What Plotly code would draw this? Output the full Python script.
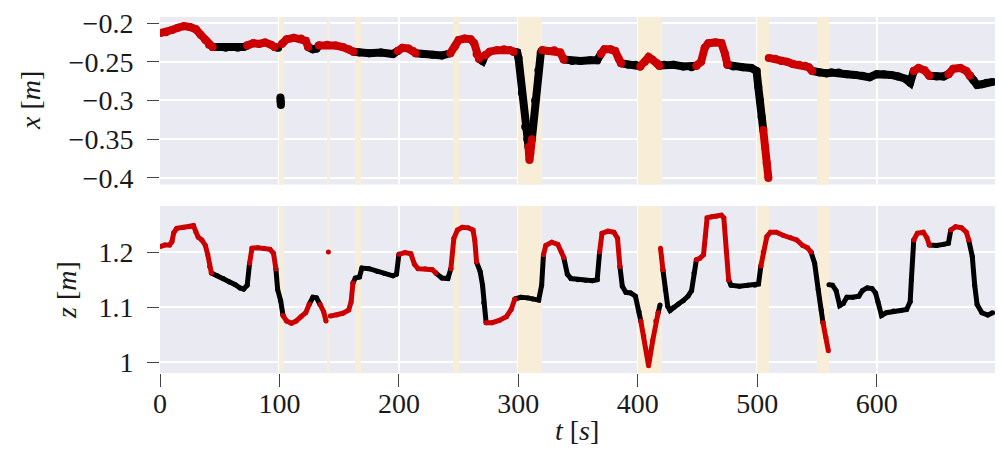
import plotly.graph_objects as go

# ---------------- data ----------------
# top panel: x [m]
x_t = [0, 5, 10, 15, 20, 25, 30, 34, 38, 41,
       44, 50, 55, 60, 65, 70,
       73, 78, 83, 88, 93,
       96, 99, 100,
       100.8, 101.0, 101.2, 101.5,
       102, 106, 112, 118, 122,
       124, 128, 131,
       133, 140, 147, 153, 158,
       162, 167, 175, 185, 195,
       199, 203, 208, 212,
       214, 220, 228, 236,
       243, 247, 250, 255, 260, 263, 265,
       267, 270,
       272, 276, 282, 288, 293,
       296, 299, 300.1, 302.9, 305.7, 307.5,
       308.5, 309.3, 310.0,
       311.3, 314, 316.8, 318.8,
       320, 325, 330, 335,
       338, 345, 352, 360, 366,
       369, 372, 377, 381, 384,
       386, 392, 398,
       402, 406, 409, 412, 416,
       418, 422, 430, 438, 445,
       449, 453, 456, 459, 465, 470, 473,
       475, 480, 488, 495, 499.4, 500.8, 502.2, 503.6,
       505, 506.5, 507.9, 509.3, 509.4,
       509.6, 515, 520, 525, 530, 535, 540, 543,
       546, 552, 558, 562, 568, 575, 582, 588, 594, 600, 606, 612, 618, 624, 628,
       631, 635, 640,
       644, 650, 656,
       660, 664, 670, 675,
       678, 681, 684, 688, 692, 697]
x_val = [-0.213, -0.212, -0.209, -0.206, -0.204, -0.205, -0.208, -0.215, -0.222, -0.228,
         -0.231, -0.231, -0.232, -0.231, -0.232, -0.231,
         -0.229, -0.226, -0.227, -0.225, -0.228,
         -0.231, -0.232, None,
         -0.296, -0.301, -0.306, None,
         -0.227, -0.221, -0.219, -0.220, -0.223,
         -0.231, -0.234, -0.233,
         -0.229, -0.228, -0.229, -0.231, -0.234,
         -0.237, -0.238, -0.239, -0.238, -0.240,
         -0.236, -0.232, -0.233, -0.236,
         -0.239, -0.240, -0.241, -0.242,
         -0.239, -0.230, -0.222, -0.220, -0.221, -0.226, -0.240,
         -0.246, -0.249,
         -0.242, -0.237, -0.235, -0.234, -0.235,
         -0.237, -0.238, -0.245, -0.290, -0.334, -0.350,
         -0.360, -0.377, -0.368,
         -0.350, -0.300, -0.261, -0.238,
         -0.235, -0.236, -0.235, -0.238,
         -0.247, -0.249, -0.249, -0.248, -0.248,
         -0.240, -0.234, -0.234, -0.236, -0.246,
         -0.252, -0.254, -0.254,
         -0.256, -0.250, -0.244, -0.247, -0.252,
         -0.255, -0.254, -0.254, -0.256, -0.257,
         -0.255, -0.250, -0.232, -0.226, -0.225, -0.226, -0.240,
         -0.254, -0.256, -0.257, -0.258, -0.262, -0.282, -0.300, -0.321,
         -0.338, -0.360, -0.381, -0.400, None,
         -0.245, -0.246, -0.249, -0.250, -0.253, -0.254, -0.255, -0.257,
         -0.262, -0.264, -0.265, -0.264, -0.264, -0.266, -0.267, -0.268, -0.270, -0.266, -0.266, -0.267, -0.269, -0.272, -0.277,
         -0.262, -0.258, -0.261,
         -0.268, -0.269, -0.269,
         -0.266, -0.259, -0.258, -0.262,
         -0.268, -0.274, -0.280, -0.279, -0.277, -0.276]
x_col = (['r'] * 10 + ['k'] * 6 + ['r'] * 5 + ['k'] * 3 + ['k'] * 4 + ['r'] * 5 + ['k'] * 3
         + ['r'] * 5 + ['k'] * 5 + ['r'] * 4 + ['k'] * 4 + ['r'] * 7 + ['k'] * 2 + ['r'] * 5
         + ['k'] * 6 + ['r'] * 3 + ['k'] * 4 + ['r'] * 4 + ['k'] * 5 + ['r'] * 5 + ['k'] * 3
         + ['r'] * 5 + ['k'] * 5 + ['r'] * 7 + ['k'] * 8 + ['r'] * 5 + ['r'] * 8 + ['k'] * 15
         + ['r'] * 3 + ['k'] * 3 + ['r'] * 4 + ['k'] * 6)

# bottom panel: z [m]
z_t = [0, 4, 8, 10, 11.5, 14, 20, 25, 28, 30, 32, 35, 38, 40, 41.5,
       43, 48, 53, 58, 63, 67, 70, 73,
       75, 77, 82, 87, 92, 95,
       97, 98.5, 101,
       103, 106, 110, 114, 118, 122,
       125, 128, 131,
       134, 137, 139, 140,
       141, 141.5,
       142.5, 148, 153, 158, 160,
       161.5, 163.5, 167, 169, 175, 182, 188, 195, 198,
       200, 205, 210, 213, 216, 222, 228,
       231, 236, 241,
       243.5, 246, 249, 253, 258, 262, 263.5,
       265, 268, 270, 271,
       273, 278, 284, 290, 294,
       297, 302, 308, 312, 317, 319.5,
       321, 323, 328, 333, 336,
       338, 341, 344, 350, 356, 362, 366,
       368, 370, 375, 380, 383,
       385, 387, 390, 394, 398, 401,
       402.5, 405, 409, 412.5, 415,
       417, 418.6, 418.8,
       419, 420,
       421, 423, 425, 427, 430, 434, 438, 442, 445, 447,
       449, 452, 455, 456.5, 458, 462, 466, 470, 472, 474,
       476, 478, 485, 492, 498, 501,
       503, 505, 508, 511, 516, 522, 528, 533, 538, 542,
       545, 548, 551, 553.5,
       555, 557.5, 559.5, 559.8,
       560, 563, 566, 569, 572, 575, 580, 585, 588, 592, 596, 599, 601, 604, 608, 614, 620, 625, 628, 629,
       631, 634, 639, 642,
       644, 650, 656, 660,
       662, 666, 671, 675,
       677, 680, 682, 684, 688, 693, 697]
z_val = [1.210, 1.213, 1.213, 1.219, 1.235, 1.243, 1.245, 1.246, 1.248, 1.237, 1.227, 1.222, 1.212, 1.195, 1.174,
         1.162, 1.157, 1.152, 1.146, 1.141, 1.135, 1.133, 1.140,
         1.180, 1.207, 1.208, 1.207, 1.205, 1.198,
         1.170, 1.132, 1.112,
         1.085, 1.075, 1.071, 1.075, 1.083, 1.090,
         1.106, 1.118, 1.117,
         1.105, 1.092, 1.075, None,
         1.200, None,
         1.084, 1.086, 1.089, 1.095, 1.110,
         1.144, 1.153, 1.155, 1.171, 1.170, 1.165, 1.161, 1.157, 1.160,
         1.196, 1.199, 1.197, 1.178, 1.170, 1.170, 1.168,
         1.162, 1.153, 1.152,
         1.170, 1.225, 1.240, 1.245, 1.244, 1.240, 1.222,
         1.182, 1.165, 1.140, 1.108,
         1.072, 1.072, 1.076, 1.083, 1.096,
         1.115, 1.118, 1.117, 1.115, 1.113, 1.140,
         1.195, 1.212, 1.218, 1.214, 1.200,
         1.190, 1.160, 1.152, 1.150, 1.149, 1.148, 1.150,
         1.200, 1.234, 1.238, 1.236, 1.225,
         1.174, 1.138, 1.127, 1.126, 1.120, 1.092,
         1.075, 1.048, 0.994, 1.040, 1.075,
         1.090, 1.104, None,
         1.207, 1.190,
         1.168, 1.132, 1.102, 1.094, 1.100, 1.106, 1.112, 1.120, 1.130, 1.162,
         1.186, 1.189, 1.195, 1.230, 1.262, 1.264, 1.265, 1.267, 1.262, 1.200,
         1.150, 1.140, 1.138, 1.140, 1.140, 1.142,
         1.175, 1.200, 1.228, 1.236, 1.236, 1.230, 1.226, 1.222, 1.212, 1.208,
         1.200, 1.180, 1.132, 1.095,
         1.072, 1.045, 1.021, None,
         1.141, 1.140, 1.130, 1.103, 1.107, 1.118, 1.118, 1.120, 1.130, 1.135, 1.134, 1.126, 1.110, 1.085, 1.090, 1.093, 1.094, 1.096, 1.110, 1.150,
         1.222, 1.234, 1.236, 1.226,
         1.213, 1.212, 1.214, 1.216,
         1.240, 1.246, 1.244, 1.236,
         1.222, 1.192, 1.140, 1.105, 1.090, 1.086, 1.090]
z_col = (['r'] * 15 + ['k'] * 8 + ['r'] * 6 + ['k'] * 3 + ['r'] * 6 + ['k'] * 3 + ['r'] * 4
         + ['r'] * 2 + ['r'] * 5 + ['k'] * 9 + ['r'] * 7 + ['k'] * 3 + ['r'] * 7 + ['k'] * 4
         + ['r'] * 5 + ['k'] * 6 + ['r'] * 5 + ['k'] * 7 + ['r'] * 5 + ['k'] * 6 + ['r'] * 5
         + ['k'] * 3 + ['r'] * 2 + ['k'] * 10 + ['r'] * 10 + ['k'] * 6 + ['r'] * 10 + ['k'] * 4
         + ['r'] * 4 + ['k'] * 20 + ['r'] * 4 + ['k'] * 4 + ['r'] * 4 + ['k'] * 7)

# highlighted time windows [s]
band_start = [100, 139.5, 163, 245, 300, 400, 500, 550]
band_end = [104, 142.5, 168, 250, 320, 420, 510, 560]

x_ticks = [0, 100, 200, 300, 400, 500, 600]
y1_ticks = [-0.2, -0.25, -0.3, -0.35, -0.4]
y1_labels = ["\u22120.2", "\u22120.25", "\u22120.3", "\u22120.35", "\u22120.4"]
y2_ticks = [1.0, 1.1, 1.2]
y2_labels = ["1", "1.1", "1.2"]

assert len(x_t) == len(x_val) == len(x_col)
assert len(z_t) == len(z_val) == len(z_col)

X_RANGE = [0, 699]
Y1_RANGE = [-0.4085, -0.1922]
Y2_RANGE = [0.9808, 1.2835]

COLORS = {"k": "#000000", "r": "#CC0000"}
BAND = "#F8EED8"
FONT = "Liberation Serif"
TXT = "#1a1a1a"

fig = go.Figure()

# shaded windows as bar traces (drawn above the grid, below the data)
centers = [(a + b) / 2 for a, b in zip(band_start, band_end)]
widths = [b - a for a, b in zip(band_start, band_end)]
for xa, ya, rng in [("x", "y", Y1_RANGE), ("x2", "y2", Y2_RANGE)]:
    fig.add_trace(go.Bar(
        x=centers, width=widths, y=[rng[1] - rng[0]] * len(centers), base=rng[0],
        xaxis=xa, yaxis=ya, marker=dict(color=BAND, line=dict(width=0)),
        showlegend=False, hoverinfo="skip"))


def add_series(t, v, c, width, xa, ya):
    for col in ["k", "r"]:
        xs, ys = [], []
        for i in range(len(t)):
            keep = c[i] == col or (i > 0 and c[i - 1] == col and v[i - 1] is not None)
            xs.append(t[i])
            ys.append(v[i] if keep else None)
        fig.add_trace(go.Scatter(
            x=xs, y=ys, mode="lines+markers", xaxis=xa, yaxis=ya,
            line=dict(color=COLORS[col], width=width),
            marker=dict(color=COLORS[col], size=width),
            connectgaps=False, showlegend=False, hoverinfo="skip"))


add_series(x_t, x_val, x_col, 8, "x", "y")
add_series(z_t, z_val, z_col, 5, "x2", "y2")

tickfont = dict(family=FONT, size=28, color=TXT)
common_x = dict(range=X_RANGE, tickvals=x_ticks, showgrid=True, gridcolor="white",
                gridwidth=1.5, zeroline=False, showline=False)
fig.update_layout(
    width=999, height=464,
    margin=dict(l=160, r=4, t=17, b=91),
    paper_bgcolor="white", plot_bgcolor="#EAEAF2",
    font=dict(family=FONT, color=TXT),
    barmode="overlay", bargap=0,
    xaxis=dict(anchor="y", domain=[0, 1], showticklabels=False, ticks="", **common_x),
    xaxis2=dict(anchor="y2", domain=[0, 1], matches="x", ticks="outside", ticklen=13,
                tickcolor="#444444", tickwidth=1, tickfont=tickfont, ticklabelstandoff=-8,
                **common_x),
    yaxis=dict(domain=[0.5295, 1], range=Y1_RANGE, tickvals=y1_ticks,
               ticktext=y1_labels, ticks="outside", ticklen=12, tickcolor="#444444",
               tickfont=tickfont, ticklabelstandoff=8, showgrid=True, gridcolor="white",
               gridwidth=1.5, zeroline=False),
    yaxis2=dict(domain=[0, 0.469], range=Y2_RANGE, tickvals=y2_ticks,
                ticktext=y2_labels, ticks="outside", ticklen=12, tickcolor="#444444",
                tickfont=tickfont, ticklabelstandoff=8, showgrid=True, gridcolor="white",
                gridwidth=1.5, zeroline=False),
)

plot_w = 999 - 160 - 4
plot_h = 464 - 17 - 91


def px_to_paper_x(px):
    return (px - 160) / plot_w


def px_to_paper_y(py):
    return (464 - 91 - py) / plot_h


title_font = dict(family=FONT, size=28, color=TXT)
fig.add_annotation(text="<i>x</i> [<i>m</i>]", xref="paper", yref="paper",
                   x=px_to_paper_x(30), y=px_to_paper_y(101), textangle=-90,
                   showarrow=False, font=title_font, xanchor="center", yanchor="middle")
fig.add_annotation(text="<i>z</i> [<i>m</i>]", xref="paper", yref="paper",
                   x=px_to_paper_x(66), y=px_to_paper_y(290), textangle=-90,
                   showarrow=False, font=title_font, xanchor="center", yanchor="middle")
fig.add_annotation(text="<i>t</i> [<i>s</i>]", xref="paper", yref="paper",
                   x=px_to_paper_x(577), y=px_to_paper_y(430),
                   showarrow=False, font=title_font, xanchor="center", yanchor="middle")

fig.write_html("out.html")
